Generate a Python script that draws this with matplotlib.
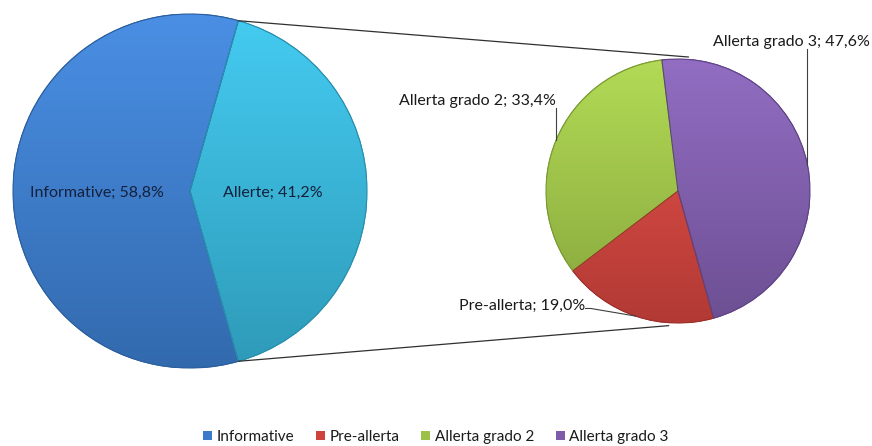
import numpy as np
import matplotlib.pyplot as plt
from matplotlib.colors import to_rgb
from matplotlib.patches import ConnectionPatch, Patch

plt.rcParams['font.family'] = ['Lato', 'DejaVu Sans']

# dati
main_labels = ['Informative', 'Allerte']
main_values = [58.8, 41.2]
sub_labels = ['Allerta grado 2', 'Pre-allerta', 'Allerta grado 3']
sub_values = [33.4, 19.0, 47.6]
legend_labels = ['Informative', 'Pre-allerta', 'Allerta grado 2', 'Allerta grado 3']

main_colors = ['#3b7bca', '#36b3d6']
sub_colors = ['#9cc146', '#cf433d', '#7e5cab']
main_edges = ['#2c5f9e', '#2a8fae']
sub_edges = ['#7a9a33', '#a0302b', '#5f4386']

W, H = 872, 446
fig = plt.figure(figsize=(W / 100, H / 100), dpi=100)

# posizione dei due grafici (pixel)
c1, r1 = (190, 191), 177
c2, r2 = (678, 191), 132
ax1 = fig.add_axes([(c1[0] - r1) / W, (H - c1[1] - r1) / H, 2 * r1 / W, 2 * r1 / H])
ax2 = fig.add_axes([(c2[0] - r2) / W, (H - c2[1] - r2) / H, 2 * r2 / W, 2 * r2 / H])

def fmt(lab, v):
    return f'{lab}; {v:.1f}%'.replace('.', ',')

def shade(ax, wedges, colors, edges):
    # leggero gradiente verticale come in Excel
    t = np.linspace(0, 1, 256)[:, None]
    for w, c, ec in zip(wedges, colors, edges):
        w.set_edgecolor(ec)
        rgb = np.array(to_rgb(c))
        top = np.clip(rgb * 1.08 + 0.04, 0, 1)
        bot = rgb * 0.86
        img = top[None, None, :] * (1 - t[..., None]) + bot[None, None, :] * t[..., None]
        img = np.repeat(img, 2, axis=1)
        im = ax.imshow(img, extent=[-1, 1, -1, 1], origin='upper', zorder=w.get_zorder() + 0.1,
                       interpolation='bilinear')
        im.set_clip_path(w)
        w2 = plt.matplotlib.patches.Wedge(w.center, w.r, w.theta1, w.theta2, facecolor='none',
                                          edgecolor=ec, lw=0.8, zorder=w.get_zorder() + 0.2)
        ax.add_patch(w2)

# torta principale
half = main_values[1] / 100 * 360 / 2
w1, _ = ax1.pie(main_values, colors=main_colors, startangle=half, radius=1,
                wedgeprops=dict(linewidth=0.8))
shade(ax1, w1, main_colors, main_edges)
ax1.text(-0.525, -0.01, fmt(main_labels[0], main_values[0]), ha='center', va='center',
         fontsize=11.5, color='#14213d', zorder=5)
ax1.text(0.469, -0.01, fmt(main_labels[1], main_values[1]), ha='center', va='center',
         fontsize=11.5, color='#14213d', zorder=5)

# torta secondaria
w2, _ = ax2.pie(sub_values, colors=sub_colors, startangle=97, radius=1,
                wedgeprops=dict(linewidth=0.8))
shade(ax2, w2, sub_colors, sub_edges)

for ax in (ax1, ax2):
    ax.set_xlim(-1, 1)
    ax.set_ylim(-1, 1)
    ax.set_aspect('equal')
    ax.axis('off')

def edge_pt(w):
    a = np.deg2rad((w.theta1 + w.theta2) / 2)
    return np.cos(a), np.sin(a)

# etichette con linee guida
lc = '#404040'
px, py = edge_pt(w2[2])
ax2.plot([px, px], [py, 1.075], color=lc, lw=0.8, clip_on=False)
ax2.text(0.86, 1.075, fmt(sub_labels[2], sub_values[2]), ha='center', va='bottom',
         fontsize=11.5, color='#1a1a1a')

px, py = edge_pt(w2[0])
ax2.plot([px, px], [py, 0.63], color=lc, lw=0.8, clip_on=False)
ax2.text(-1.52, 0.63, fmt(sub_labels[0], sub_values[0]), ha='center', va='bottom',
         fontsize=11.5, color='#1a1a1a')

px, py = edge_pt(w2[1])
ax2.plot([px, -0.66, -0.70], [py, -0.89, -0.89], color=lc, lw=0.8, clip_on=False)
ax2.text(-0.70, -0.87, fmt(sub_labels[1], sub_values[1]), ha='right', va='center',
         fontsize=11.5, color='#1a1a1a')

# linee di collegamento
a1 = np.deg2rad(w1[1].theta2)
a2 = np.deg2rad(w1[1].theta1)
for (xa, ya), (xb, yb) in [((np.cos(a1), np.sin(a1)), (0.08, 1.015)),
                           ((np.cos(a2), np.sin(a2)), (-0.07, -1.02))]:
    con = ConnectionPatch(xyA=(xa, ya), coordsA=ax1.transData,
                          xyB=(xb, yb), coordsB=ax2.transData,
                          color='#303030', lw=0.9)
    fig.add_artist(con)

# legenda
leg_colors = {'Informative': main_colors[0], 'Pre-allerta': sub_colors[1],
              'Allerta grado 2': sub_colors[0], 'Allerta grado 3': sub_colors[2]}
handles = [Patch(facecolor=leg_colors[l], edgecolor='none') for l in legend_labels]
fig.legend(handles, legend_labels, loc='center', bbox_to_anchor=(0.5, 1 - 437 / H),
           ncol=4, frameon=False, fontsize=11, handlelength=0.6, handleheight=0.6,
           handletextpad=0.3, columnspacing=1.4, labelcolor='#1a1a1a')

fig.savefig('out.png', dpi=100)
